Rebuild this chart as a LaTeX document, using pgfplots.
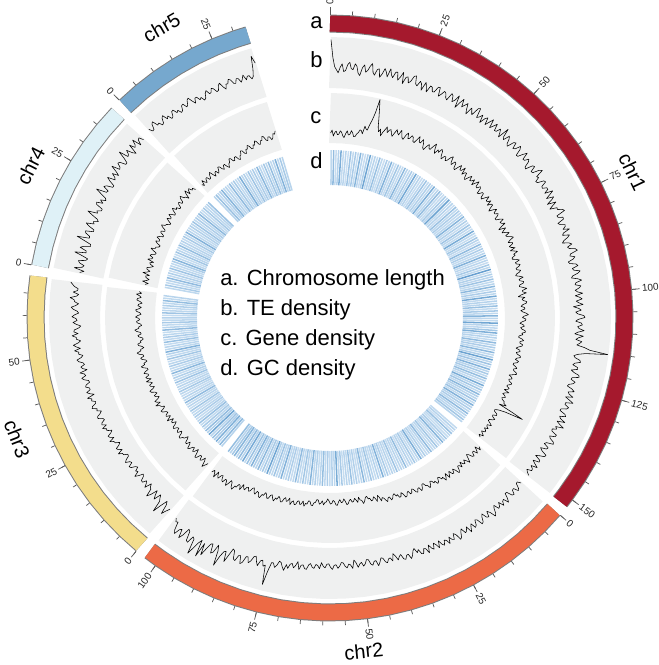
\documentclass[border=0pt]{standalone}
\usepackage{pgfplots}
\pgfplotsset{compat=1.18}
\usepackage{pgfplotstable}
\usepgfplotslibrary{polar}
\usepackage{fontspec}
\setmainfont{Liberation Sans}

\definecolor{chrA}{RGB}{165,25,45}
\definecolor{chrB}{RGB}{236,106,70}
\definecolor{chrC}{RGB}{243,221,140}
\definecolor{chrD}{RGB}{223,241,247}
\definecolor{chrE}{RGB}{118,168,206}
\definecolor{ringgray}{RGB}{125,125,125}
\definecolor{bandgray}{RGB}{239,240,240}
\definecolor{tickgray}{RGB}{90,90,90}

% chromosome extents (Mb), sampled every 5 Mb
\pgfplotstableread[row sep=\\]{p\\0\\5\\10\\15\\20\\25\\30\\35\\40\\45\\50\\55\\60\\65\\70\\75\\80\\85\\90\\95\\100\\105\\110\\115\\120\\125\\130\\135\\140\\145\\150\\152\\}\arcA
\pgfplotstableread[row sep=\\]{p\\0\\5\\10\\15\\20\\25\\30\\35\\40\\45\\50\\55\\60\\65\\70\\75\\80\\85\\90\\95\\100\\103\\}\arcB
\pgfplotstableread[row sep=\\]{p\\0\\5\\10\\15\\20\\25\\30\\35\\40\\45\\50\\55\\60\\65\\69\\}\arcC
\pgfplotstableread[row sep=\\]{p\\0\\5\\10\\15\\20\\25\\30\\35\\40\\}\arcD
\pgfplotstableread[row sep=\\]{p\\0\\5\\10\\15\\20\\25\\30\\33\\}\arcE

% TE density (0.5 Mb bins)
\pgfplotstableread[row sep=\\]{v\\
95\\60\\42\\36\\30\\41\\48\\33\\35\\47\\52\\40\\38\\50\\45\\32\\28\\44\\50\\36\\
40\\49\\55\\38\\33\\45\\47\\31\\38\\50\\44\\35\\52\\41\\36\\48\\49\\34\\41\\52\\
30\\44\\46\\35\\39\\51\\53\\38\\35\\46\\42\\30\\48\\40\\31\\45\\44\\36\\37\\49\\
50\\33\\39\\47\\45\\37\\34\\50\\47\\36\\41\\53\\29\\42\\52\\37\\43\\49\\38\\30\\
46\\40\\35\\52\\55\\36\\40\\47\\32\\44\\49\\35\\44\\53\\36\\43\\51\\38\\39\\48\\
42\\34\\58\\41\\37\\50\\45\\36\\33\\47\\50\\38\\41\\52\\47\\34\\35\\45\\53\\39\\
40\\48\\44\\33\\31\\46\\48\\37\\38\\51\\56\\40\\42\\33\\35\\47\\49\\38\\37\\45\\
45\\36\\52\\43\\34\\48\\41\\30\\47\\38\\30\\44\\43\\52\\55\\37\\38\\47\\46\\33\\
36\\45\\44\\38\\50\\36\\33\\46\\41\\32\\28\\40\\45\\35\\38\\49\\52\\37\\35\\44\\
40\\29\\31\\43\\46\\34\\36\\48\\43\\32\\29\\41\\48\\36\\34\\45\\41\\33\\37\\47\\
32\\40\\45\\33\\38\\46\\27\\37\\42\\31\\35\\47\\49\\36\\31\\42\\44\\35\\38\\48\\
36\\30\\47\\38\\33\\45\\41\\36\\52\\62\\98\\55\\40\\33\\36\\46\\48\\37\\34\\44\\
45\\33\\39\\50\\51\\38\\37\\46\\43\\35\\33\\44\\49\\38\\41\\50\\36\\45\\54\\40\\
40\\49\\46\\36\\35\\47\\50\\39\\42\\53\\38\\45\\55\\40\\44\\36\\37\\49\\48\\38\\
41\\50\\52\\39\\36\\47\\45\\34\\39\\51\\50\\41\\34\\46\\47\\35\\42\\50\\38\\44\\
45\\36\\40\\46\\}\bA
\pgfplotstableread[row sep=\\]{v\\
44\\37\\38\\47\\50\\40\\41\\49\\47\\36\\35\\45\\52\\41\\43\\50\\39\\46\\48\\37\\
42\\51\\55\\43\\37\\48\\46\\35\\40\\49\\51\\39\\36\\46\\49\\38\\44\\52\\38\\45\\
47\\36\\41\\50\\53\\40\\36\\47\\45\\38\\50\\41\\39\\48\\44\\35\\48\\40\\35\\46\\
42\\34\\49\\39\\37\\46\\45\\35\\40\\30\\34\\42\\47\\37\\38\\45\\43\\33\\36\\42\\
33\\27\\41\\34\\35\\42\\39\\31\\30\\38\\44\\33\\34\\41\\38\\29\\28\\36\\40\\32\\
35\\41\\31\\26\\42\\35\\33\\40\\37\\30\\29\\36\\40\\33\\34\\42\\38\\31\\32\\39\\
36\\29\\41\\35\\33\\41\\39\\32\\35\\44\\43\\36\\37\\46\\31\\39\\44\\36\\38\\47\\
40\\52\\46\\38\\36\\45\\50\\42\\42\\60\\88\\50\\53\\42\\44\\55\\48\\38\\40\\50\\
55\\44\\45\\58\\62\\47\\48\\60\\58\\42\\40\\55\\70\\50\\52\\64\\85\\56\\45\\62\\
66\\48\\50\\63\\78\\55\\85\\52\\60\\74\\88\\58\\55\\70\\68\\50\\47\\63\\72\\55\\
58\\70\\64\\48\\50\\44\\}\bB
\pgfplotstableread[row sep=\\]{v\\
38\\46\\55\\36\\30\\44\\62\\40\\35\\29\\44\\37\\28\\42\\50\\35\\33\\27\\41\\34\\
30\\38\\37\\29\\26\\35\\42\\31\\34\\26\\29\\37\\39\\30\\32\\40\\36\\28\\27\\34\\
35\\42\\31\\38\\40\\32\\28\\36\\37\\44\\33\\40\\42\\34\\30\\39\\38\\45\\35\\43\\
41\\34\\36\\45\\44\\37\\33\\41\\39\\48\\46\\38\\37\\44\\42\\50\\35\\43\\48\\40\\
40\\47\\45\\37\\38\\46\\50\\41\\43\\51\\36\\44\\47\\39\\41\\49\\52\\43\\39\\47\\
46\\54\\42\\50\\55\\45\\40\\48\\48\\56\\44\\52\\51\\42\\38\\47\\53\\45\\47\\55\\
50\\42\\45\\53\\57\\48\\43\\51\\52\\60\\48\\44\\55\\47\\46\\54\\58\\62\\}\bC
\pgfplotstableread[row sep=\\]{v\\
48\\40\\60\\45\\42\\52\\55\\41\\38\\50\\66\\44\\45\\58\\52\\39\\40\\54\\70\\46\\
47\\56\\58\\43\\43\\55\\62\\47\\50\\41\\45\\57\\68\\49\\52\\44\\44\\58\\60\\48\\
55\\45\\48\\60\\72\\52\\50\\62\\58\\46\\46\\57\\65\\50\\53\\61\\49\\58\\70\\54\\
56\\64\\62\\50\\50\\60\\75\\56\\58\\66\\54\\48\\68\\57\\60\\70\\52\\62\\64\\55\\}\bD
\pgfplotstableread[row sep=\\]{v\\
62\\54\\55\\65\\68\\56\\58\\50\\52\\61\\64\\53\\57\\48\\50\\59\\60\\51\\54\\46\\
48\\57\\58\\49\\52\\60\\62\\53\\46\\55\\55\\47\\50\\42\\44\\53\\57\\48\\49\\56\\
53\\45\\46\\55\\58\\48\\42\\51\\50\\58\\55\\46\\45\\53\\52\\43\\48\\55\\44\\50\\
50\\42\\46\\60\\85\\70\\}\bE

% gene density (0.5 Mb bins)
\pgfplotstableread[row sep=\\]{v\\
20\\26\\14\\21\\24\\17\\18\\25\\22\\15\\12\\20\\26\\18\\19\\27\\23\\16\\16\\22\\
25\\31\\30\\24\\40\\35\\33\\45\\55\\70\\98\\80\\62\\44\\35\\41\\28\\36\\42\\49\\
38\\44\\46\\39\\34\\42\\50\\44\\41\\52\\45\\38\\36\\47\\52\\41\\43\\50\\48\\40\\
39\\47\\55\\45\\44\\53\\47\\38\\35\\44\\50\\43\\42\\51\\58\\46\\40\\50\\46\\55\\
52\\43\\38\\46\\47\\40\\43\\52\\56\\45\\41\\50\\49\\39\\37\\46\\53\\44\\45\\54\\
40\\47\\48\\39\\36\\45\\51\\42\\44\\50\\39\\47\\54\\43\\42\\49\\47\\36\\38\\45\\
45\\37\\35\\43\\50\\41\\41\\48\\37\\45\\46\\38\\33\\42\\48\\40\\40\\46\\43\\35\\
36\\44\\49\\40\\42\\48\\38\\31\\45\\39\\34\\42\\47\\38\\40\\47\\51\\42\\37\\45\\
44\\36\\39\\46\\35\\42\\48\\39\\41\\34\\33\\41\\46\\37\\38\\45\\42\\35\\36\\43\\
40\\33\\31\\39\\45\\36\\37\\44\\43\\35\\34\\41\\48\\39\\39\\46\\35\\29\\42\\36\\
38\\45\\44\\36\\33\\40\\40\\32\\36\\43\\47\\38\\35\\42\\41\\34\\30\\37\\39\\32\\
34\\41\\42\\35\\37\\30\\29\\36\\40\\33\\33\\39\\38\\31\\27\\35\\36\\29\\31\\38\\
39\\32\\30\\37\\35\\28\\28\\34\\37\\31\\32\\38\\40\\33\\26\\32\\34\\28\\30\\36\\
36\\30\\29\\35\\33\\27\\38\\31\\27\\33\\35\\29\\31\\37\\37\\44\\30\\60\\85\\48\\
33\\27\\28\\35\\36\\29\\30\\37\\34\\28\\27\\33\\38\\30\\31\\36\\29\\34\\35\\28\\
32\\37\\28\\33\\}\cA
\pgfplotstableread[row sep=\\]{v\\
44\\50\\38\\45\\50\\41\\42\\49\\47\\39\\36\\44\\52\\45\\40\\47\\45\\38\\48\\42\\
41\\50\\53\\44\\39\\47\\46\\38\\43\\49\\37\\44\\49\\40\\42\\36\\35\\43\\45\\38\\
40\\34\\33\\41\\44\\37\\36\\30\\30\\38\\41\\33\\34\\40\\38\\31\\29\\36\\37\\30\\
32\\38\\39\\31\\27\\34\\35\\28\\30\\24\\26\\32\\34\\27\\28\\35\\31\\26\\24\\30\\
22\\17\\29\\22\\18\\24\\25\\19\\20\\14\\16\\23\\27\\20\\19\\13\\23\\18\\14\\20\\
21\\15\\17\\23\\25\\18\\13\\19\\20\\14\\18\\25\\24\\17\\15\\21\\22\\16\\12\\18\\
19\\24\\16\\21\\23\\15\\14\\20\\21\\27\\26\\19\\18\\25\\24\\30\\20\\26\\28\\21\\
22\\29\\30\\23\\25\\32\\19\\25\\27\\20\\23\\30\\31\\24\\21\\28\\26\\33\\29\\22\\
24\\31\\32\\25\\22\\29\\28\\36\\35\\27\\26\\33\\30\\22\\24\\31\\33\\26\\27\\34\\
31\\25\\38\\30\\29\\37\\36\\45\\42\\33\\30\\39\\45\\35\\34\\42\\40\\31\\33\\41\\
37\\30\\44\\36\\32\\38\\}\cB
\pgfplotstableread[row sep=\\]{v\\
30\\36\\42\\31\\25\\33\\35\\27\\28\\36\\38\\29\\22\\30\\33\\25\\27\\34\\36\\28\\
24\\32\\31\\24\\20\\28\\29\\35\\34\\26\\23\\31\\30\\24\\26\\33\\32\\25\\21\\29\\
28\\22\\35\\29\\24\\32\\31\\25\\27\\34\\36\\28\\25\\31\\33\\40\\29\\35\\38\\30\\
26\\33\\34\\27\\30\\37\\39\\31\\27\\34\\35\\28\\32\\39\\28\\35\\37\\30\\31\\38\\
35\\28\\29\\36\\40\\32\\33\\26\\28\\35\\37\\30\\31\\39\\42\\34\\34\\27\\30\\37\\
38\\31\\32\\26\\27\\34\\36\\29\\30\\38\\41\\33\\33\\27\\29\\36\\37\\31\\32\\39\\
35\\28\\30\\37\\39\\32\\28\\35\\34\\27\\31\\38\\37\\30\\33\\40\\30\\35\\}\cC
\pgfplotstableread[row sep=\\]{v\\
26\\20\\32\\24\\20\\27\\28\\21\\35\\27\\22\\29\\30\\23\\18\\25\\27\\20\\33\\26\\
24\\31\\29\\22\\21\\28\\34\\26\\26\\20\\19\\27\\31\\24\\25\\32\\28\\21\\22\\29\\
30\\23\\24\\31\\35\\28\\27\\21\\20\\27\\32\\25\\26\\33\\29\\22\\23\\30\\34\\26\\
28\\21\\22\\29\\31\\24\\25\\33\\36\\28\\27\\20\\30\\36\\24\\31\\33\\26\\28\\22\\}\cD
\pgfplotstableread[row sep=\\]{v\\
20\\15\\26\\19\\16\\23\\24\\17\\18\\25\\28\\20\\14\\21\\22\\15\\19\\26\\25\\18\\
15\\22\\23\\16\\12\\19\\20\\27\\26\\19\\18\\24\\24\\17\\14\\21\\22\\29\\28\\21\\
19\\27\\26\\33\\30\\23\\22\\29\\27\\35\\33\\26\\24\\31\\30\\38\\36\\28\\26\\33\\
32\\25\\28\\36\\34\\40\\}\cE

% GC density (1 Mb bins)
\pgfplotstableread[row sep=\\]{v\\
30\\55\\20\\40\\65\\25\\35\\15\\50\\28\\45\\22\\60\\33\\18\\42\\70\\26\\38\\24\\
52\\30\\16\\44\\28\\62\\35\\20\\48\\32\\25\\58\\38\\22\\45\\30\\68\\27\\40\\19\\
35\\50\\24\\42\\30\\64\\22\\38\\55\\28\\20\\46\\33\\72\\26\\40\\18\\52\\30\\44\\
28\\36\\60\\24\\42\\20\\50\\34\\26\\66\\32\\22\\48\\38\\18\\56\\30\\44\\24\\40\\
62\\28\\35\\20\\46\\30\\74\\25\\42\\33\\50\\26\\38\\58\\22\\44\\30\\68\\28\\40\\
36\\52\\24\\46\\30\\60\\34\\26\\70\\38\\28\\48\\64\\32\\40\\22\\56\\36\\44\\30\\
58\\26\\42\\72\\34\\50\\28\\62\\38\\46\\30\\54\\40\\24\\66\\36\\48\\28\\58\\42\\
34\\50\\26\\62\\38\\44\\30\\56\\40\\32\\48\\36\\}\gA
\pgfplotstableread[row sep=\\]{v\\
25\\40\\18\\52\\30\\22\\44\\35\\60\\28\\20\\48\\32\\26\\56\\38\\24\\42\\30\\64\\
34\\22\\46\\28\\40\\18\\54\\30\\36\\24\\50\\26\\38\\20\\44\\32\\62\\28\\40\\22\\
36\\48\\24\\30\\58\\34\\20\\42\\28\\52\\30\\38\\22\\46\\26\\66\\32\\40\\24\\44\\
28\\54\\36\\22\\42\\30\\60\\26\\38\\48\\24\\34\\56\\30\\20\\44\\36\\28\\62\\40\\
32\\50\\26\\42\\70\\34\\46\\28\\58\\38\\44\\62\\36\\52\\30\\68\\40\\56\\34\\60\\
48\\38\\54\\}\gB
\pgfplotstableread[row sep=\\]{v\\
40\\58\\32\\64\\44\\50\\36\\70\\42\\55\\30\\46\\26\\52\\38\\24\\44\\34\\28\\48\\
22\\36\\30\\56\\26\\40\\20\\34\\46\\28\\38\\24\\50\\30\\42\\22\\58\\32\\26\\44\\
34\\20\\48\\28\\40\\62\\30\\36\\24\\52\\28\\44\\32\\22\\56\\36\\26\\46\\30\\40\\
24\\50\\34\\28\\42\\30\\54\\26\\38\\}\gC
\pgfplotstableread[row sep=\\]{v\\
30\\46\\24\\38\\56\\28\\42\\20\\50\\34\\26\\44\\60\\30\\22\\48\\36\\28\\54\\32\\
40\\24\\46\\30\\62\\36\\26\\42\\34\\50\\28\\44\\32\\58\\38\\24\\46\\30\\40\\52\\}\gD
\pgfplotstableread[row sep=\\]{v\\
36\\52\\28\\44\\60\\32\\40\\24\\56\\30\\46\\26\\38\\64\\34\\42\\22\\50\\30\\44\\
28\\58\\36\\24\\48\\32\\54\\26\\40\\62\\30\\46\\38\\}\gE

% position (Mb) -> polar angle; 0.846 deg per Mb, 2 deg gaps
\pgfplotsset{
  onA/.style={x filter/.expression={90-0.846*x}},
  onB/.style={x filter/.expression={90-(130.59+0.846*x)}},
  onC/.style={x filter/.expression={90-(219.73+0.846*x)}},
  onD/.style={x filter/.expression={90-(280.10+0.846*x)}},
  onE/.style={x filter/.expression={90-(315.94+0.846*x)}},
  trk/.style={black, line width=0.42pt, line join=round},
  gcmark/.style={scatter, only marks, mark=|, mark size=13.125pt,
    scatter/use mapped color={draw=mapped color},
    mark options={line width=1.15pt},
    point meta=\thisrow{v},
    scatter/@pre marker code/.append style={/tikz/rotate=\rot}},
}

\newcommand{\chrtrack}[6]{% style, offset, arc, b, c, gc
  \addplot[draw=bandgray, line width=38.25pt, #1] table[x=p, y index=0, y expr=255.5]{#3};
  \addplot[draw=bandgray, line width=37.5pt, #1] table[x=p, y index=0, y expr=200]{#3};
  \addplot[trk, #1] table[x expr=0.5*\coordindex+0.25, y index=0, y expr=230+0.51*\thisrow{v}]{#4};
  \addplot[trk, #1] table[x expr=0.5*\coordindex+0.25, y index=0, y expr=175+0.5*\thisrow{v}]{#5};
  \addplot[gcmark, #1, visualization depends on={-(#2+0.846*(\coordindex+0.5)) \as \rot}]
    table[x expr=\coordindex+0.5, y index=0, y expr=150.5]{#6};
}
\newcommand{\chrring}[3]{% style, colour, arc
  \addplot[draw=ringgray, line width=13.5pt, #1] table[x=p, y index=0, y expr=294.5]{#3};
  \addplot[draw=#2, line width=12pt, #1] table[x=p, y index=0, y expr=294.5]{#3};
}

\newcommand{\ticklabelfont}{\fontsize{7.5}{9}\selectfont}
\newcommand{\chrticks}[3]{% offset, last minor tick, labelled ticks
  \foreach \t in {0,5,...,#2}{%
    \pgfmathsetmacro\ang{90-(#1+0.846*\t)}%
    \draw[tickgray, line width=0.55pt] (\ang:227.6pt) -- (\ang:230.6pt);
  }%
  \foreach \t in {#3}{%
    \pgfmathsetmacro\ang{90-(#1+0.846*\t)}%
    \draw[tickgray, line width=0.55pt] (\ang:227.6pt) -- (\ang:233.2pt);
    \pgfmathtruncatemacro\lft{\ang<-90 ? 1 : 0}%
    \ifnum\lft=1
      \pgfmathsetmacro\rr{\ang+180}%
      \node[font=\ticklabelfont, text=black!85, rotate=\rr, anchor=east, inner sep=0pt] at (\ang:234.8pt) {\t};
    \else
      \node[font=\ticklabelfont, text=black!85, rotate=\ang, anchor=west, inner sep=0pt] at (\ang:234.8pt) {\t};
    \fi
  }%
}

\begin{document}
\begin{tikzpicture}
\begin{polaraxis}[
  at={(0pt,0pt)}, anchor=center,
  scale only axis, width=454.5pt, height=454.5pt,
  xmin=0, xmax=360, ymin=0, ymax=303,
  hide axis, clip=false,
  colormap={gc}{rgb255(0cm)=(214,230,245) rgb255(4cm)=(182,211,236) rgb255(7cm)=(112,166,211) rgb255(10cm)=(45,115,185)},
  point meta min=0, point meta max=100,
]
\chrtrack{onA}{0}{\arcA}{\bA}{\cA}{\gA}
\chrtrack{onB}{130.59}{\arcB}{\bB}{\cB}{\gB}
\chrtrack{onC}{219.73}{\arcC}{\bC}{\cC}{\gC}
\chrtrack{onD}{280.10}{\arcD}{\bD}{\cD}{\gD}
\chrtrack{onE}{315.94}{\arcE}{\bE}{\cE}{\gE}
\chrring{onA}{chrA}{\arcA}
\chrring{onB}{chrB}{\arcB}
\chrring{onC}{chrC}{\arcC}
\chrring{onD}{chrD}{\arcD}
\chrring{onE}{chrE}{\arcE}
\end{polaraxis}

\chrticks{0}{150}{0,25,50,75,100,125,150}
\chrticks{130.59}{100}{0,25,50,75,100}
\chrticks{219.73}{65}{0,25,50}
\chrticks{280.10}{35}{0,25}
\chrticks{315.94}{30}{0,25}

\begin{scope}[every node/.style={font=\fontsize{15}{18}\selectfont, inner sep=0pt}]
  \node[rotate=-64.3] at ({90-64.3}:252pt) {chr1};
  \node[rotate=5.8]   at ({90-174.2}:251pt) {chr2};
  \node[rotate=-68.9] at ({90-248.9}:251.5pt) {chr3};
  \node[rotate=63.0]  at ({90-297.0}:252pt) {chr4};
  \node[rotate=30.1]  at ({90-329.9}:252pt) {chr5};
\end{scope}

\begin{scope}[every node/.style={font=\fontsize{16.5}{20}\selectfont, inner sep=0pt, anchor=base west}]
  \node at (-15pt,217.5pt) {a};
  \node at (-15pt,188.25pt) {b};
  \node at (-15pt,146.25pt) {c};
  \node at (-15pt,112.5pt) {d};
  \node at (-82.5pt,24.75pt) {a. Chromosome length};
  \node at (-82.5pt,2.25pt) {b. TE density};
  \node at (-82.5pt,-20.25pt) {c. Gene density};
  \node at (-82.5pt,-42.75pt) {d. GC density};
\end{scope}

\pgfresetboundingbox
\path[use as bounding box] (-247.5pt,-260.25pt) rectangle (246pt,238.5pt);
\end{tikzpicture}
\end{document}
